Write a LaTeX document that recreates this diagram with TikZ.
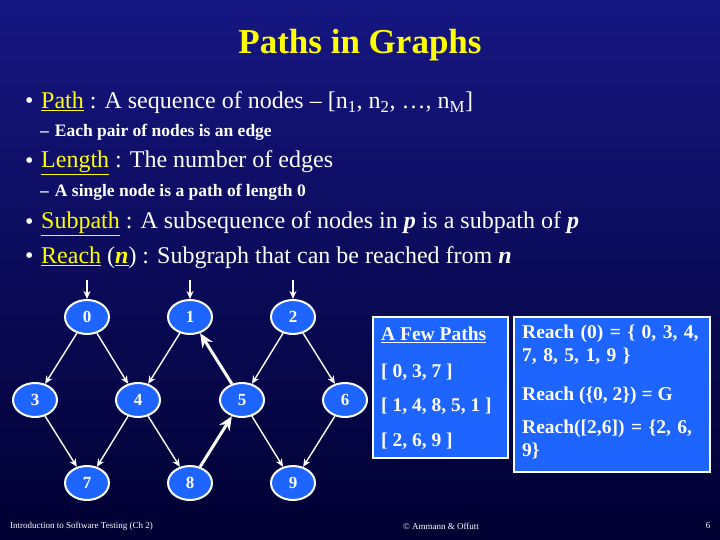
\documentclass[tikz,border=0pt]{standalone}
\usepackage{fontspec}
\setmainfont{Liberation Serif}
\usetikzlibrary{shapes.geometric,arrows.meta}
\definecolor{ylw}{RGB}{255,255,0}
\definecolor{nblue}{RGB}{30,100,255}
\definecolor{bgtop}{RGB}{22,22,130}
\definecolor{bgbot}{RGB}{0,0,50}
\tikzset{
 gnode/.style={ellipse,draw=white,line width=2pt,fill=nblue,minimum width=44pt,minimum height=34pt,inner sep=0pt,text=white,font=\bfseries\fontsize{17}{17}\selectfont},
 edge/.style={white,line width=1.4pt,-{Stealth[length=8pt,width=7pt]}},
 bedge/.style={white,line width=3pt,-{Stealth[length=14pt,width=12pt]}},
 ibox/.style={draw=white,line width=1.5pt,fill=nblue},
 txt/.style={anchor=west,text=white,inner sep=0pt},
 big/.style={font=\fontsize{24}{26}\selectfont},
 sub/.style={font=\bfseries\fontsize{17.5}{20}\selectfont},
 boxt/.style={anchor=west,text=white,inner sep=0pt,font=\bfseries\fontsize{19.5}{23}\selectfont}
}
\newcommand{\yu}[1]{\textcolor{ylw}{\underline{#1}}}
\begin{document}
\begin{tikzpicture}[x=1pt,y=-1pt]
\shade[top color=bgtop,bottom color=bgbot] (0,0) rectangle (720,540);
\useasboundingbox (0,0) rectangle (720,540);
\node[text=ylw,font=\bfseries\fontsize{35}{35}\selectfont] (title) at (360,45) {Paths in Graphs};
\node[txt,big] (b1d) at (25,103) {•};
\node[txt,big] (b1) at (41,103) {\yu{Path} : A sequence of nodes -- [n\textsubscript{1}, n\textsubscript{2}, \dots, n\textsubscript{M}]};
\node[txt,sub] (s1) at (40,132) {--\hspace{6pt}Each pair of nodes is an edge};
\node[txt,big] (b2d) at (25,163) {•};
\node[txt,big] (b2) at (41,163) {\yu{Length} : The number of edges};
\node[txt,sub] (s2) at (40,192) {--\hspace{6pt}A single node is a path of length 0};
\node[txt,big] (b3d) at (25,224) {•};
\node[txt,big] (b3) at (41,224) {\yu{Subpath} : A subsequence of nodes in \textbf{\textit{p}} is a subpath of \textbf{\textit{p}}};
\node[txt,big] (b4d) at (25,258) {•};
\node[txt,big] (b4) at (41,258) {\yu{Reach} (\yu{\textbf{\textit{n}}}) : Subgraph that can be reached from \textbf{\textit{n}}};
% graph
\node[gnode] (n0) at (87,317) {0};
\node[gnode] (n1) at (190,317) {1};
\node[gnode] (n2) at (293,317) {2};
\node[gnode] (n3) at (35,400) {3};
\node[gnode] (n4) at (138,400) {4};
\node[gnode] (n5) at (242,400) {5};
\node[gnode] (n6) at (345,400) {6};
\node[gnode] (n7) at (87,483) {7};
\node[gnode] (n8) at (190,483) {8};
\node[gnode] (n9) at (293,483) {9};
\coordinate (e0) at (87,280);
\coordinate (e1) at (190,280);
\coordinate (e2) at (293,280);
\draw[edge] (e0) -- (n0);
\draw[edge] (e1) -- (n1);
\draw[edge] (e2) -- (n2);
\draw[edge] (n0) -- (n3);
\draw[edge] (n0) -- (n4);
\draw[edge] (n1) -- (n4);
\draw[edge] (n2) -- (n5);
\draw[edge] (n2) -- (n6);
\draw[edge] (n3) -- (n7);
\draw[edge] (n4) -- (n7);
\draw[edge] (n4) -- (n8);
\draw[edge] (n5) -- (n9);
\draw[edge] (n6) -- (n9);
\draw[bedge] (n8) -- (n5);
\draw[bedge] (n5) -- (n1);
% boxes
\draw[ibox] (373,317) rectangle (508,458);
\node[boxt] (p0) at (381,335) {\underline{A Few Paths}};
\node[boxt] (p1) at (381,372) {[ 0, 3, 7 ]};
\node[boxt] (p2) at (381,406) {[ 1, 4, 8, 5, 1 ]};
\node[boxt] (p3) at (381,441) {[ 2, 6, 9 ]};
\draw[ibox] (514,317) rectangle (710,472);
\node[boxt,anchor=north west,text width=182pt,align=left] (r1) at (522,325) {Reach (0) = \{ 0, 3, 4, 7, 8, 5, 1, 9 \}};
\node[boxt] (r2) at (522,396) {Reach (\{0, 2\}) = G};
\node[boxt,anchor=north west,text width=182pt,align=left] (r3) at (522,420) {Reach([2,6]) = \{2, 6, 9\}};
% footer
\node[txt,font=\fontsize{9}{9}\selectfont] (f1) at (10,526) {Introduction to Software Testing (Ch 2)};
\node[text=white,inner sep=0pt,font=\fontsize{9}{9}\selectfont] (f2) at (441,526) {© Ammann \& Offutt};
\node[text=white,inner sep=0pt,font=\fontsize{9}{9}\selectfont] (f3) at (708,526) {6};
\end{tikzpicture}
\end{document}
